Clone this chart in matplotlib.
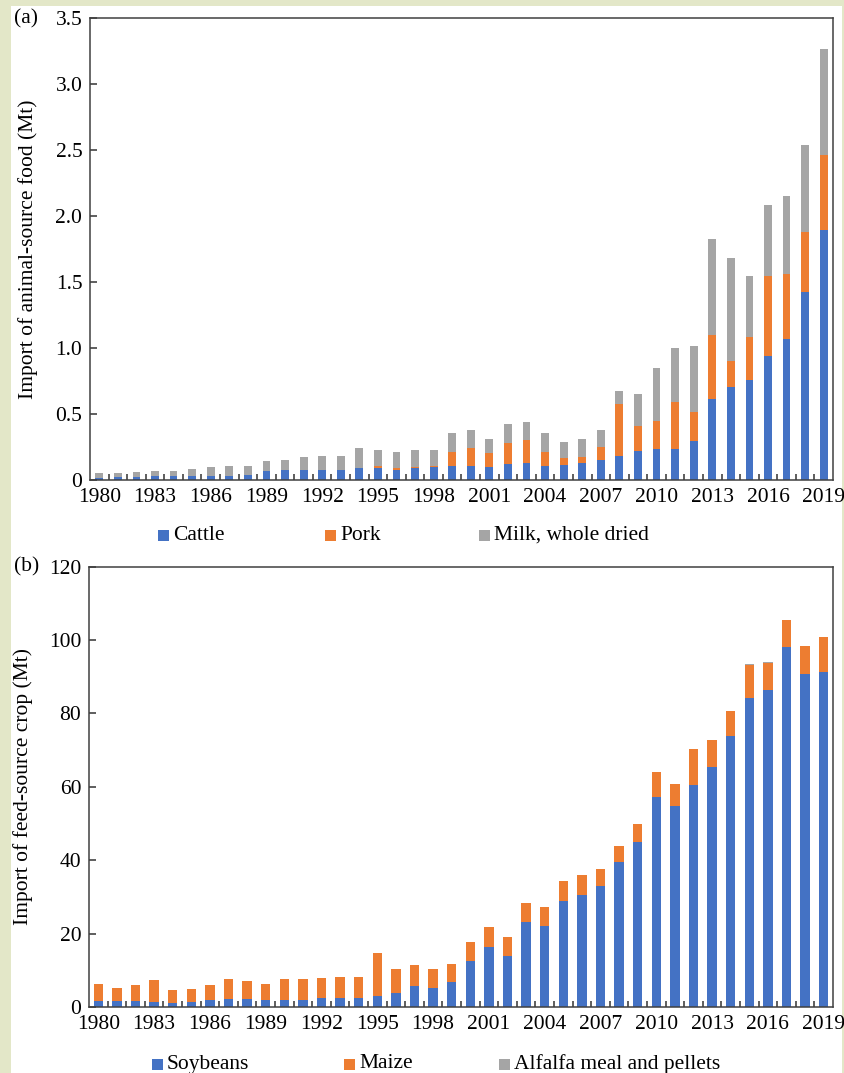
import matplotlib.pyplot as plt
from matplotlib.patches import Rectangle
from matplotlib.transforms import blended_transform_factory
import numpy as np

plt.rcParams['font.family'] = ['Liberation Serif', 'DejaVu Serif']
FS = 15.5
plt.rcParams['font.size'] = FS

years = list(range(1980, 2020))

# (a) animal-source food imports, Mt
cattle = [0.018, 0.020, 0.023, 0.028, 0.028, 0.030, 0.030, 0.028, 0.038, 0.068,
          0.073, 0.078, 0.076, 0.076, 0.093, 0.093, 0.078, 0.091, 0.096, 0.108,
          0.106, 0.096, 0.121, 0.126, 0.108, 0.116, 0.131, 0.152, 0.184, 0.220,
          0.232, 0.232, 0.298, 0.614, 0.702, 0.755, 0.942, 1.068, 1.427, 1.891]
pork = [0, 0, 0, 0, 0, 0, 0, 0, 0, 0,
        0, 0, 0, 0, 0, 0.013, 0.015, 0.010, 0.012, 0.107,
        0.139, 0.106, 0.162, 0.177, 0.102, 0.053, 0.046, 0.098, 0.392, 0.191,
        0.217, 0.361, 0.217, 0.487, 0.200, 0.331, 0.603, 0.493, 0.449, 0.571]
milk = [0.032, 0.035, 0.038, 0.040, 0.040, 0.051, 0.068, 0.076, 0.066, 0.078,
        0.079, 0.094, 0.103, 0.108, 0.147, 0.121, 0.119, 0.126, 0.119, 0.139,
        0.134, 0.106, 0.139, 0.139, 0.146, 0.119, 0.131, 0.126, 0.101, 0.241,
        0.399, 0.409, 0.503, 0.725, 0.782, 0.459, 0.538, 0.591, 0.659, 0.803]

# (b) feed-source crop imports, Mt
soybeans = [1.5, 1.7, 1.5, 1.4, 1.2, 1.4, 2.0, 2.2, 2.3, 1.8,
            1.9, 1.9, 2.4, 2.5, 2.4, 3.0, 3.7, 5.7, 5.1, 6.7,
            12.6, 16.4, 13.8, 23.2, 22.2, 28.9, 30.6, 33.0, 39.5, 44.9,
            57.3, 54.7, 60.5, 65.4, 73.7, 84.2, 86.4, 98.0, 90.6, 91.3]
maize = [4.7, 3.6, 4.5, 5.9, 3.3, 3.4, 4.0, 5.5, 4.7, 4.6,
         5.7, 5.7, 5.4, 5.6, 5.7, 11.6, 6.6, 5.8, 5.2, 5.0,
         5.2, 5.4, 5.2, 5.1, 5.0, 5.3, 5.3, 4.7, 4.4, 4.9,
         6.6, 6.0, 9.7, 7.4, 6.8, 9.1, 7.4, 7.4, 7.8, 9.5]
alfalfa = [0, 0, 0, 0, 0, 0, 0, 0, 0, 0,
           0, 0, 0, 0, 0, 0, 0, 0, 0, 0,
           0, 0, 0, 0, 0, 0, 0, 0, 0.05, 0.05,
           0.05, 0.05, 0.05, 0.05, 0.05, 0.05, 0.05, 0.05, 0.05, 0.05]

BLUE, ORANGE, GRAY = '#4472C4', '#ED7D31', '#A5A5A5'
W, H = 845, 1073

fig = plt.figure(figsize=(W / 100, H / 100), dpi=100)
fig.patch.set_facecolor('#E3E7C8')
fig.patches.append(Rectangle((11 / W, 0), (842 - 11) / W, 1 - 6 / H,
                             transform=fig.transFigure, facecolor='white',
                             edgecolor='none', zorder=-10))


def px_axes(left, top, right, bottom):
    return fig.add_axes([left / W, 1 - bottom / H, (right - left) / W, (bottom - top) / H])


def style_axes(ax, ymax, yticks, ylabels, ylabel, label_x):
    x = np.arange(len(years))
    ax.set_xlim(-0.5, len(years) - 0.5)
    ax.set_ylim(0, ymax)
    ax.set_xticks(x[::3])
    ax.set_xticklabels([str(y) for y in years[::3]])
    ax.set_xticks(x[:-1] + 0.5, minor=True)
    ax.set_yticks(yticks)
    ax.set_yticklabels(ylabels)
    ax.tick_params(axis='x', which='major', length=0, pad=6, labelsize=FS)
    ax.tick_params(axis='x', which='minor', direction='in', length=4.5, width=1.1, color='#333333')
    ax.tick_params(axis='y', which='major', direction='in', length=5, width=1.1,
                   color='#333333', pad=5.5, labelsize=FS)
    for s in ax.spines.values():
        s.set_color('#404040')
        s.set_linewidth(1.1)
    ax.set_ylabel(ylabel, fontsize=FS)
    ax.yaxis.set_label_coords(label_x, 0.5,
                              transform=blended_transform_factory(fig.transFigure, ax.transAxes))


def legend_row(y, entries):
    for xm, label, color in entries:
        fig.patches.append(Rectangle(((xm - 5.5) / W, 1 - (y + 5.5) / H), 11 / W, 11 / H,
                                     transform=fig.transFigure, facecolor=color,
                                     edgecolor='none'))
        fig.text((xm + 9) / W, 1 - y / H, label, fontsize=FS, va='center', ha='left')


x = np.arange(len(years))

# panel (a)
ax1 = px_axes(90, 18, 833, 480)
c = np.array(cattle)
p = np.array(pork)
m = np.array(milk)
ax1.bar(x, c, width=0.42, color=BLUE, linewidth=0)
ax1.bar(x, p, width=0.42, bottom=c, color=ORANGE, linewidth=0)
ax1.bar(x, m, width=0.42, bottom=c + p, color=GRAY, linewidth=0)
style_axes(ax1, 3.5, [0, 0.5, 1.0, 1.5, 2.0, 2.5, 3.0, 3.5],
           ['0', '0.5', '1.0', '1.5', '2.0', '2.5', '3.0', '3.5'],
           'Import of animal-source food (Mt)', 38 / W)
fig.text(14 / W, 1 - 19 / H, '(a)', fontsize=FS, va='center', ha='left')
legend_row(535, [(164, 'Cattle', BLUE), (331, 'Pork', ORANGE),
                 (485, 'Milk, whole dried', GRAY)])

# panel (b)
ax2 = px_axes(89, 566.5, 833, 1007)
s = np.array(soybeans)
mz = np.array(maize)
al = np.array(alfalfa)
ax2.bar(x, s, width=0.5, color=BLUE, linewidth=0)
ax2.bar(x, mz, width=0.5, bottom=s, color=ORANGE, linewidth=0)
ax2.bar(x, al, width=0.5, bottom=s + mz, color=GRAY, linewidth=0)
style_axes(ax2, 120, [0, 20, 40, 60, 80, 100, 120],
           ['0', '20', '40', '60', '80', '100', '120'],
           'Import of feed-source crop (Mt)', 33 / W)
fig.text(14 / W, 1 - 567 / H, '(b)', fontsize=FS, va='center', ha='left')
legend_row(1064, [(158, 'Soybeans', BLUE), (350, 'Maize', ORANGE),
                  (505, 'Alfalfa meal and pellets', GRAY)])

fig.savefig('out.png', dpi=100)
